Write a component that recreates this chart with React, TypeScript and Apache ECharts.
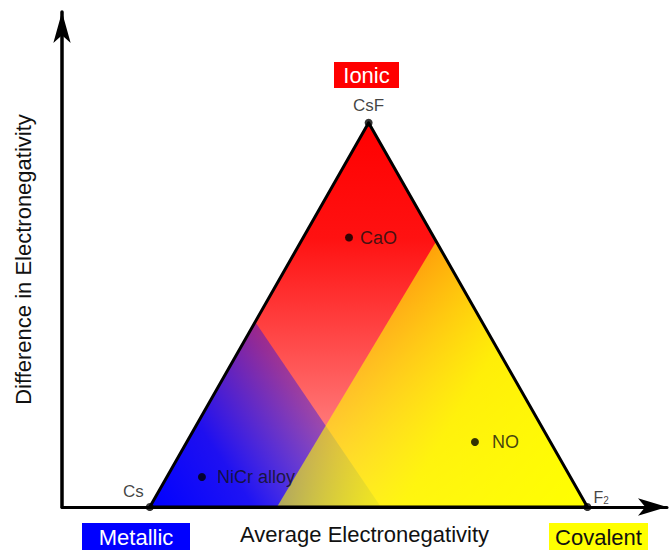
import React, { useEffect, useRef } from "react";
import * as echarts from "echarts";

// Axis ranges (electronegativity units)
const X_MIN = 0.15;
const X_MAX = 4.56;
const Y_MIN = 0;
const Y_MAX = 4.109;

// Triangle vertices: Cs, CsF, F2
const vertexNames = ["Cs", "CsF", "F2"];
const vertexX = [0.79, 2.385, 3.98];
const vertexY = [0, 3.19, 0];

// Compounds plotted inside the triangle
const compoundNames = ["CaO", "NO", "NiCr alloy"];
const compoundX = [2.242, 3.16, 1.17];
const compoundY = [2.237, 0.54, 0.249];

// Sub-regions (metallic corner, covalent corner)
const metallicRegionX = [0.79, 1.56, 2.475];
const metallicRegionY = [0, 1.533, 0];
const covalentRegionX = [3.98, 2.875, 1.717];
const covalentRegionY = [0, 2.2, 0];

const FONT = "'Liberation Sans', Arial, Helvetica, sans-serif";

function foot(p: number[], a: number[], b: number[]) {
  const dx = b[0] - a[0];
  const dy = b[1] - a[1];
  const t = ((p[0] - a[0]) * dx + (p[1] - a[1]) * dy) / (dx * dx + dy * dy);
  return [a[0] + t * dx, a[1] + t * dy];
}

export default function App() {
  const ref = useRef<HTMLDivElement>(null);

  useEffect(() => {
    if (!ref.current) return;
    const chart = echarts.init(ref.current, undefined, { renderer: "svg" });

    const renderTriangle = (_params: any, api: any) => {
      const V = vertexX.map((x, i) => api.coord([x, vertexY[i]]));
      const M = metallicRegionX.map((x, i) => api.coord([x, metallicRegionY[i]]));
      const C = covalentRegionX.map((x, i) => api.coord([x, covalentRegionY[i]]));
      const mFoot = foot(M[0], M[1], M[2]);
      const cFoot = foot(C[0], C[1], C[2]);
      return {
        type: "group",
        children: [
          {
            type: "polygon",
            shape: { points: V },
            style: {
              fill: {
                type: "linear",
                x: V[1][0],
                y: V[1][1],
                x2: V[1][0],
                y2: V[0][1],
                global: true,
                colorStops: [
                  { offset: 0, color: "rgba(255,0,0,1)" },
                  { offset: 0.3, color: "rgba(255,10,10,0.97)" },
                  { offset: 1, color: "rgba(255,0,0,0.35)" },
                ],
              },
            },
          },
          {
            type: "polygon",
            shape: { points: M },
            style: {
              fill: {
                type: "linear",
                x: M[0][0],
                y: M[0][1],
                x2: mFoot[0],
                y2: mFoot[1],
                global: true,
                colorStops: [
                  { offset: 0, color: "rgba(0,0,255,1)" },
                  { offset: 0.45, color: "rgba(0,0,255,0.88)" },
                  { offset: 1, color: "rgba(0,0,255,0.38)" },
                ],
              },
            },
          },
          {
            type: "polygon",
            shape: { points: C },
            style: {
              fill: {
                type: "linear",
                x: cFoot[0],
                y: cFoot[1],
                x2: C[0][0],
                y2: C[0][1],
                global: true,
                colorStops: [
                  { offset: 0, color: "rgba(255,255,0,0.6)" },
                  { offset: 0.4, color: "rgba(255,255,0,0.9)" },
                  { offset: 1, color: "rgba(255,255,0,1)" },
                ],
              },
            },
          },
          {
            type: "polygon",
            shape: { points: V },
            style: { fill: "none", stroke: "#000", lineWidth: 3, lineJoin: "round" },
          },
        ],
      };
    };

    const vertexLabel: any[] = [
      { position: "left", distance: 2, offset: [0, -16] },
      { position: "top", distance: 5 },
      { position: "right", distance: 2, offset: [0, -12] },
    ];
    const compoundLabelGap = [7, 13, 11];

    chart.setOption({
      animation: false,
      grid: { left: 62, right: 4, top: 12, bottom: 42 },
      xAxis: {
        type: "value",
        min: X_MIN,
        max: X_MAX,
        name: "Average Electronegativity",
        nameLocation: "middle",
        nameGap: 16,
        nameTextStyle: { fontFamily: FONT, fontSize: 22, color: "#111" },
        axisLine: {
          show: true,
          symbol: ["none", "arrow"],
          symbolSize: [13, 29],
          lineStyle: { color: "#000", width: 3 },
        },
        axisTick: { show: false },
        axisLabel: { show: false },
        splitLine: { show: false },
      },
      yAxis: {
        type: "value",
        min: Y_MIN,
        max: Y_MAX,
        name: "Difference in Electronegativity",
        nameLocation: "middle",
        nameGap: 28,
        nameTextStyle: { fontFamily: FONT, fontSize: 22, color: "#111" },
        axisLine: {
          show: true,
          symbol: ["none", "arrow"],
          symbolSize: [13, 31],
          lineStyle: { color: "#000", width: 3.5 },
        },
        axisTick: { show: false },
        axisLabel: { show: false },
        splitLine: { show: false },
      },
      series: [
        {
          type: "custom",
          coordinateSystem: "cartesian2d",
          renderItem: renderTriangle,
          data: [[vertexX[0], vertexY[0]]],
          clip: false,
          silent: true,
          z: 2,
        },
        {
          type: "scatter",
          z: 5,
          symbolSize: 8,
          itemStyle: { color: "#000" },
          label: {
            show: true,
            fontFamily: FONT,
            fontSize: 17,
            color: "#111",
          },
          data: vertexNames.map((n, i) => ({
            value: [vertexX[i], vertexY[i]],
            name: n,
            label: {
              ...vertexLabel[i],
              formatter: n === "F2" ? "{a|F}{b|2}" : n,
              rich: {
                a: { fontFamily: FONT, fontSize: 16, color: "#111", lineHeight: 20, verticalAlign: "bottom" },
                b: { fontFamily: FONT, fontSize: 10, color: "#111", lineHeight: 8, verticalAlign: "bottom" },
              },
            },
          })),
        },
        {
          type: "scatter",
          z: 5,
          symbolSize: 8,
          itemStyle: { color: "#000" },
          label: {
            show: true,
            position: "right",
            fontFamily: FONT,
            fontSize: 18,
            color: "#111",
            formatter: (p: any) => p.name,
          },
          data: compoundNames.map((n, i) => ({
            value: [compoundX[i], compoundY[i]],
            name: n,
            label: { distance: compoundLabelGap[i] },
          })),
        },
      ],
      graphic: [
        {
          type: "group",
          left: 334,
          top: 62,
          children: [
            { type: "rect", shape: { x: 0, y: 0, width: 65, height: 26 }, style: { fill: "#ff0000" } },
            {
              type: "text",
              x: 32.5,
              y: 13,
              style: { text: "Ionic", fill: "#fff", font: `22px ${FONT}`, align: "center", verticalAlign: "middle" },
            },
          ],
        },
        {
          type: "group",
          left: 82,
          top: 523,
          children: [
            { type: "rect", shape: { x: 0, y: 0, width: 108, height: 27 }, style: { fill: "#0000ff" } },
            {
              type: "text",
              x: 54,
              y: 14,
              style: { text: "Metallic", fill: "#fff", font: `22px ${FONT}`, align: "center", verticalAlign: "middle" },
            },
          ],
        },
        {
          type: "group",
          left: 549,
          top: 523,
          children: [
            { type: "rect", shape: { x: 0, y: 0, width: 99, height: 27 }, style: { fill: "#ffff00" } },
            {
              type: "text",
              x: 49.5,
              y: 14,
              style: { text: "Covalent", fill: "#111", font: `22px ${FONT}`, align: "center", verticalAlign: "middle" },
            },
          ],
        },
      ],
    });

    return () => chart.dispose();
  }, []);

  return <div ref={ref} style={{ width: 671, height: 550, position: "absolute", left: 0, top: 0 }} />;
}
